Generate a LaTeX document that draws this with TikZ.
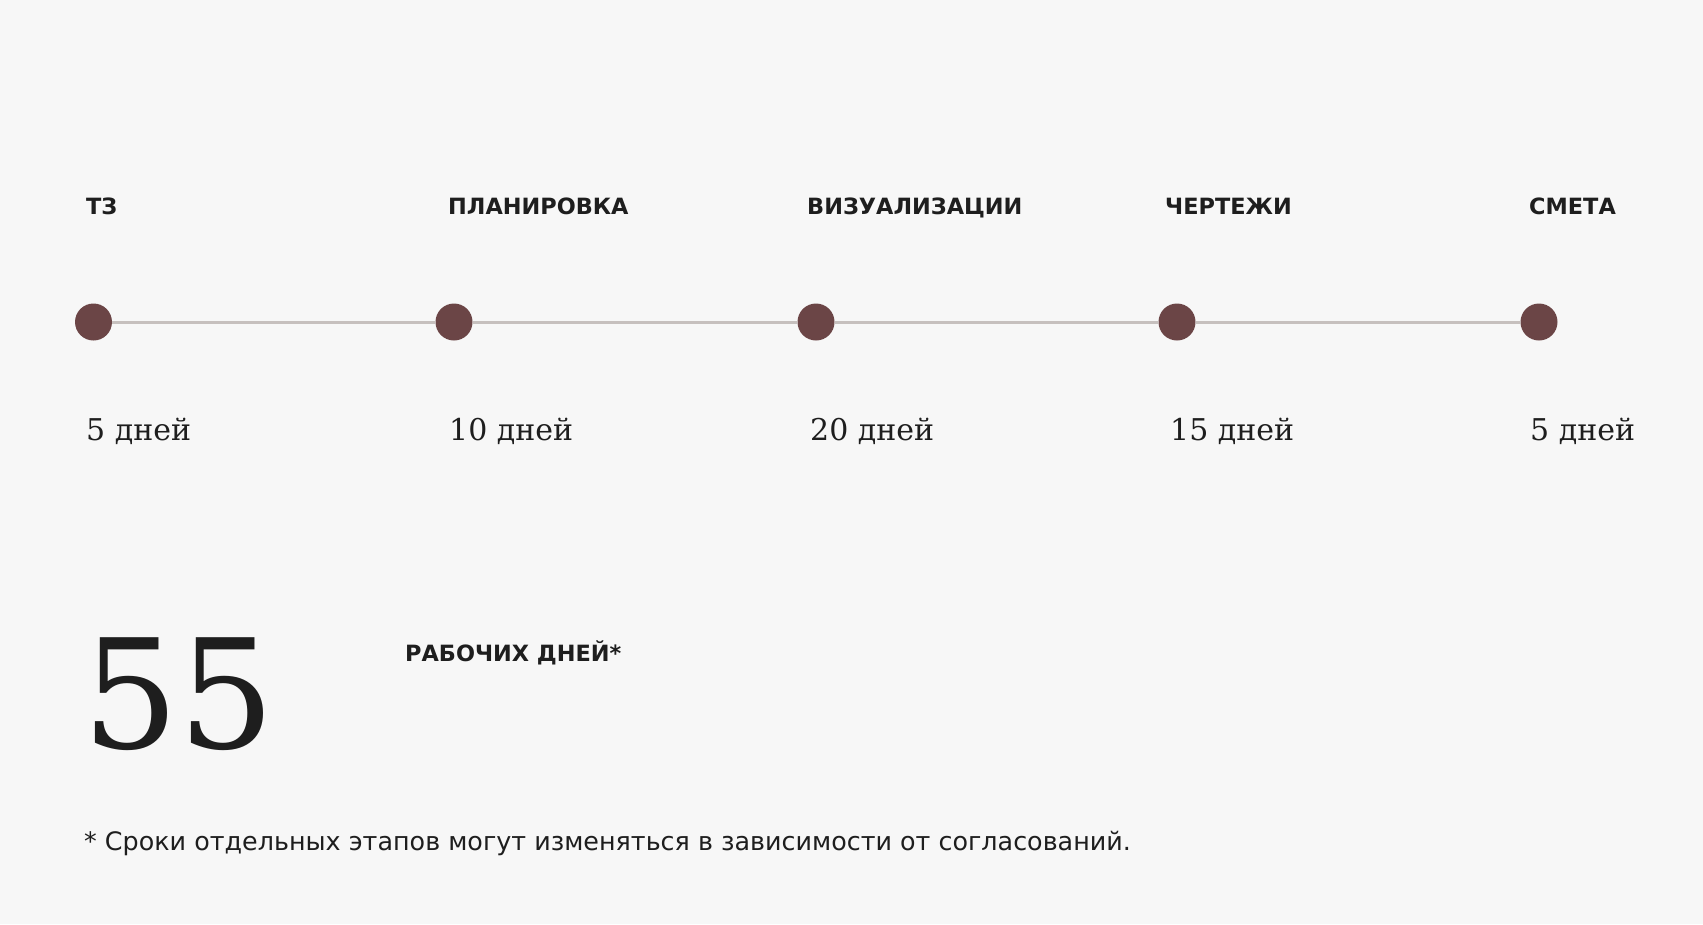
\documentclass[tikz,border=0pt]{standalone}
\usepackage{fontspec}
\setmainfont{DejaVu Serif}
\setsansfont{DejaVu Sans}
\definecolor{bgc}{HTML}{F7F7F7}
\definecolor{dotc}{HTML}{6B4546}
\definecolor{linec}{HTML}{C6C0BE}
\definecolor{txt}{HTML}{1E1E1E}
\tikzset{
  stagelabel/.style={anchor=base west,inner sep=0pt,text=txt,font=\sffamily\bfseries\fontsize{22.4}{26}\selectfont},
  daylabel/.style={anchor=base west,inner sep=0pt,text=txt,font=\rmfamily\fontsize{30}{34}\selectfont},
  stagedot/.style={circle,fill=dotc,draw=none,minimum size=37pt,inner sep=0pt},
  conn/.style={draw=linec,line width=3pt},
}
\begin{document}
\begin{tikzpicture}[x=1pt,y=-1pt]
\fill[bgc] (0,0) rectangle (1703,924);
\useasboundingbox (0,0) rectangle (1703,924);
% dots
\node[stagedot] (d1) at (93.5,322) {};
\node[stagedot] (d2) at (454,322) {};
\node[stagedot] (d3) at (816,322) {};
\node[stagedot] (d4) at (1177,322) {};
\node[stagedot] (d5) at (1539,322) {};
\draw[conn] (d1) -- (d2);
\draw[conn] (d2) -- (d3);
\draw[conn] (d3) -- (d4);
\draw[conn] (d4) -- (d5);
% stage titles
\node[stagelabel] (t1) at (86,214) {ТЗ};
\node[stagelabel] (t2) at (448,214) {ПЛАНИРОВКА};
\node[stagelabel] (t3) at (807,214) {ВИЗУАЛИЗАЦИИ};
\node[stagelabel] (t4) at (1165,214) {ЧЕРТЕЖИ};
\node[stagelabel] (t5) at (1529,214) {СМЕТА};
% durations
\node[daylabel] (n1) at (86,440) {5 дней};
\node[daylabel] (n2) at (449,440) {10 дней};
\node[daylabel] (n3) at (810,440) {20 дней};
\node[daylabel] (n4) at (1170,440) {15 дней};
\node[daylabel] (n5) at (1530,440) {5 дней};
% total
\node[anchor=base west,inner sep=0pt,text=txt,font=\rmfamily\fontsize{152}{160}\selectfont] (total) at (82,748) {55};
\node[anchor=base west,inner sep=0pt,text=txt,font=\sffamily\bfseries\fontsize{22.4}{26}\selectfont] (unit) at (405,661) {РАБОЧИХ ДНЕЙ*};
% footnote
\node[anchor=base west,inner sep=0pt,text=txt,font=\sffamily\fontsize{25.4}{30}\selectfont] (note) at (84,850) {* Сроки отдельных этапов могут изменяться в зависимости от согласований.};
\end{tikzpicture}
\end{document}
